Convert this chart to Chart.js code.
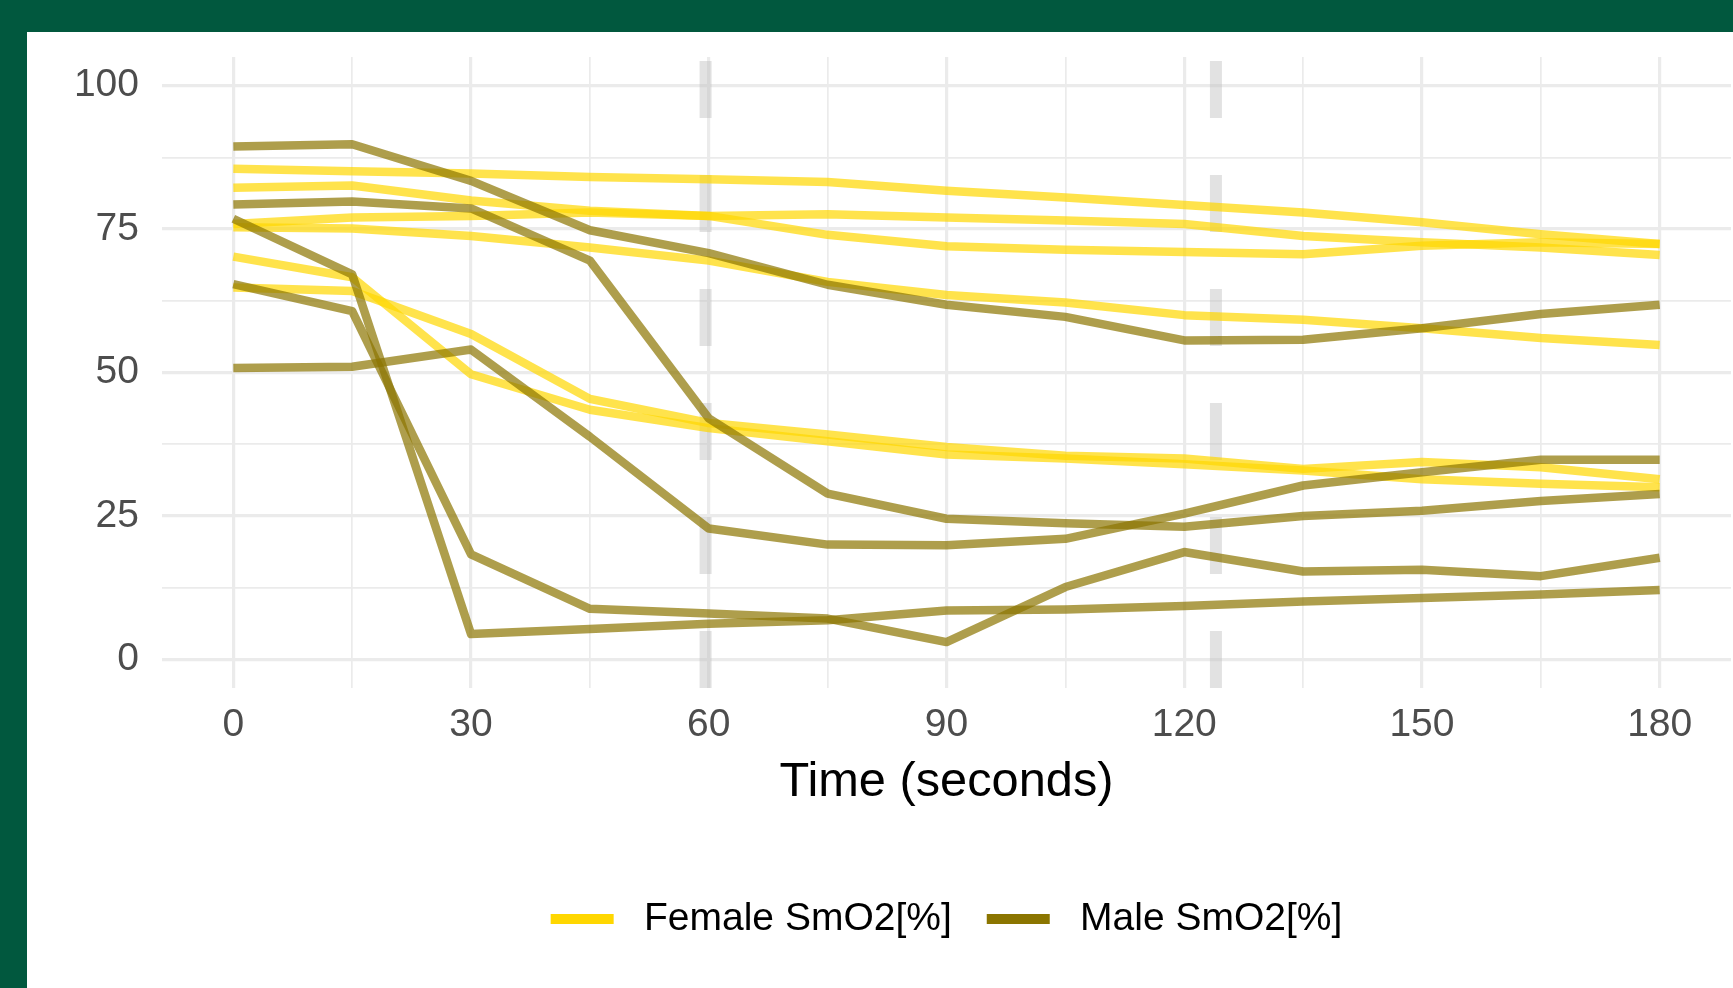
<!DOCTYPE html>
<html>
<head>
<meta charset="utf-8">
<title>SmO2 over time</title>
<script src="https://cdn.jsdelivr.net/npm/chart.js@4.4.1/dist/chart.umd.min.js"></script>
<style>
  html, body { margin: 0; padding: 0; }
  body { width: 1733px; height: 988px; background: #01583e; position: relative; overflow: hidden; }
  #panel { position: absolute; left: 27px; top: 32px; width: 1706px; height: 956px; background: #ffffff; }
</style>
</head>
<body>
<div id="panel"><canvas id="smo2Chart" width="1706" height="956"></canvas></div>
<script>
// -- Data --
const TIMES = [0, 15, 30, 45, 60, 75, 90, 105, 120, 135, 150, 165, 180];

// one array per female subject, SmO2 [%]
const FEMALE_1 = [85.5, 85.1, 84.7, 84.1, 83.7, 83.2, 81.7, 80.5, 79.2, 77.9, 76.2, 74.1, 72.4];
const FEMALE_2 = [82.2, 82.6, 80.0, 78.2, 77.3, 74.0, 72.0, 71.4, 71.0, 70.6, 72.1, 72.7, 72.4];
const FEMALE_3 = [75.9, 77.0, 77.3, 77.9, 77.3, 77.6, 77.0, 76.5, 75.9, 73.8, 72.7, 71.8, 70.5];
const FEMALE_4 = [75.3, 75.1, 73.8, 71.8, 69.5, 65.8, 63.5, 62.2, 60.0, 59.2, 57.7, 56.0, 54.8];
const FEMALE_5 = [70.2, 66.6, 49.7, 43.5, 40.3, 38.0, 35.7, 35.0, 34.0, 32.9, 31.4, 30.6, 30.0];
const FEMALE_6 = [64.8, 64.2, 56.7, 45.4, 41.2, 39.2, 37.0, 35.5, 35.0, 33.2, 34.4, 33.5, 31.4];

// one array per male subject, SmO2 [%]
const MALE_1 = [89.4, 89.8, 83.4, 74.8, 70.8, 65.3, 61.8, 59.7, 55.6, 55.7, 57.7, 60.2, 61.8];
const MALE_2 = [79.3, 79.8, 78.6, 69.5, 42.0, 28.9, 24.5, 23.7, 23.1, 25.0, 25.9, 27.6, 28.8];
const MALE_3 = [50.8, 51.0, 54.0, 38.8, 22.8, 20.0, 19.9, 21.0, 25.4, 30.3, 32.6, 34.8, 34.8];
const MALE_4 = [76.8, 67.1, 4.4, 5.3, 6.2, 6.8, 8.5, 8.7, 9.3, 10.1, 10.7, 11.3, 12.1];
const MALE_5 = [65.4, 60.7, 18.3, 8.8, 8.0, 7.1, 3.0, 12.6, 18.7, 15.3, 15.6, 14.5, 17.7];

const FEMALE_SERIES = [FEMALE_1, FEMALE_2, FEMALE_3, FEMALE_4, FEMALE_5, FEMALE_6];
const MALE_SERIES = [MALE_1, MALE_2, MALE_3, MALE_4, MALE_5];

// dashed stage markers (seconds)
const STAGE_MARKS = [59.6, 124];

// axis ticks: every tick gets a grid line, only the labelled ones get text
const X_TICKS = [0, 15, 30, 45, 60, 75, 90, 105, 120, 135, 150, 165, 180];
const X_LABELLED = [0, 30, 60, 90, 120, 150, 180];
const Y_TICKS = [0, 12.5, 25, 37.5, 50, 62.5, 75, 87.5, 100];
const Y_LABELLED = [0, 25, 50, 75, 100];

const LEGEND_LABELS = ['Female SmO2[%]', 'Male SmO2[%]'];

// -- Styles --
const FEMALE_COLOR = 'rgba(255, 215, 0, 0.7)';
const MALE_COLOR = 'rgba(139, 117, 0, 0.7)';
const FEMALE_KEY = '#FFD700';
const MALE_KEY = '#8B7500';
const GRID = '#ebebeb';

Chart.defaults.font.family = '"Liberation Sans", Arial, Helvetica, sans-serif';

function subjectDataset(values, color) {
    return {
        data: TIMES.map((t, i) => ({ x: t, y: values[i] })),
        borderColor: color,
        backgroundColor: color,
        borderWidth: 8.5,
        borderJoinStyle: 'round',
        borderCapStyle: 'butt',
        pointRadius: 0,
        tension: 0,
        fill: false,
        order: 0
    };
}

const datasets = [];
MALE_SERIES.forEach(s => datasets.push(subjectDataset(s, MALE_COLOR)));
FEMALE_SERIES.forEach(s => datasets.push(subjectDataset(s, FEMALE_COLOR)));

// vertical dashed markers, drawn bottom -> top so the dash starts at the bottom
STAGE_MARKS.forEach(m => {
    datasets.push({
        data: [{ x: m, y: -5 }, { x: m, y: 105 }],
        borderColor: 'rgba(190, 190, 190, 0.45)',
        borderWidth: 12,
        borderDash: [57, 57],
        borderCapStyle: 'butt',
        pointRadius: 0,
        fill: false,
        order: 1
    });
});

const ctx = document.getElementById('smo2Chart').getContext('2d');
const chart = new Chart(ctx, {
    type: 'line',
    data: { datasets: datasets },
    options: {
        responsive: false,
        animation: false,
        devicePixelRatio: 1,
        layout: { padding: { top: 25, right: 2, bottom: 39.5, left: 0 } },
        scales: {
            x: {
                type: 'linear',
                min: -9,
                max: 189,
                afterBuildTicks: s => { s.ticks = X_TICKS.map(v => ({ value: v })); },
                afterFit: s => { s.paddingLeft = 0; s.paddingRight = 0; s.height = 176.5; },
                grid: {
                    color: GRID,
                    lineWidth: c => (c.tick && X_LABELLED.includes(c.tick.value)) ? 3.2 : 1.7,
                    drawTicks: false
                },
                border: { display: false },
                ticks: {
                    autoSkip: false,
                    maxRotation: 0,
                    padding: 14,
                    color: '#4d4d4d',
                    font: { size: 39 },
                    callback: v => X_LABELLED.includes(v) ? String(v) : ''
                },
                title: {
                    display: true,
                    text: 'Time (seconds)',
                    color: '#000000',
                    font: { size: 48.75 },
                    padding: { top: 2, bottom: 53 }
                }
            },
            y: {
                type: 'linear',
                min: -5,
                max: 105,
                afterBuildTicks: s => { s.ticks = Y_TICKS.map(v => ({ value: v })); },
                afterFit: s => { s.width = 135; s.paddingTop = 0; s.paddingBottom = 0; },
                grid: {
                    color: GRID,
                    lineWidth: c => (c.tick && Y_LABELLED.includes(c.tick.value)) ? 3.2 : 1.7,
                    drawTicks: false
                },
                border: { display: false },
                ticks: {
                    padding: 23,
                    color: '#4d4d4d',
                    font: { size: 39 },
                    callback: v => Y_LABELLED.includes(v) ? String(v) : ''
                }
            }
        },
        plugins: {
            legend: {
                position: 'bottom',
                fullSize: false,
                onClick: null,
                labels: {
                    boxWidth: 63,
                    boxHeight: 10,
                    padding: 35,
                    color: '#000000',
                    font: { size: 39 },
                    generateLabels: () => [
                        { text: ' ' + LEGEND_LABELS[0], fillStyle: FEMALE_KEY, strokeStyle: FEMALE_KEY, lineWidth: 0, hidden: false, fontColor: '#000000', datasetIndex: MALE_SERIES.length },
                        { text: ' ' + LEGEND_LABELS[1], fillStyle: MALE_KEY, strokeStyle: MALE_KEY, lineWidth: 0, hidden: false, fontColor: '#000000', datasetIndex: 0 }
                    ]
                }
            },
            tooltip: { enabled: false }
        }
    }
});
</script>
</body>
</html>
